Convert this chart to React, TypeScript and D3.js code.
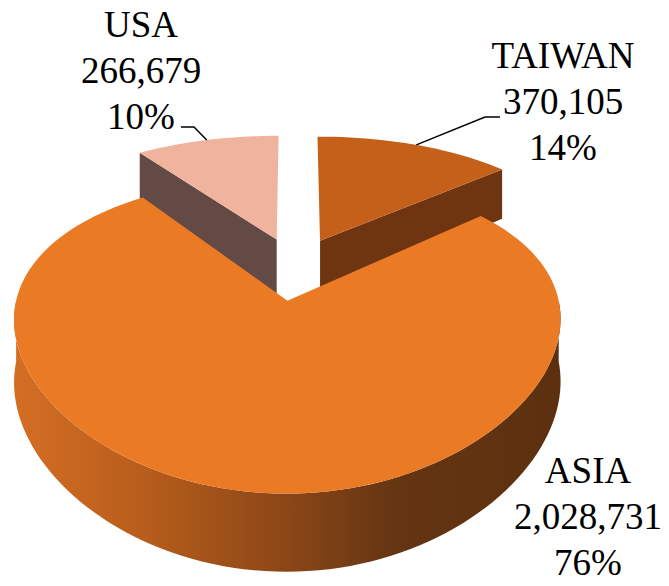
import React from "react";
import * as d3 from "d3";

// slice data, in drawing order (clockwise from 12 o'clock)
const categories = ["TAIWAN", "ASIA", "USA"];
const values = [370105, 2028731, 266679];

const topColors = ["#c5601a", "#eb7a25", "#f0b39e"];
const cutColors = ["#6e3510", "#6e3510", "#634a44"];

// label layout: text centre x, first baseline, leader elbow and end
const labelX = [563, 588, 141];
const labelY = [68, 483, 37];
const leaderElbow: ([number, number] | null)[] = [[485, 117], null, [194, 127]];
const leaderEnd: ([number, number] | null)[] = [[500, 117], null, [181, 127]];

const W = 669;
const H = 586;

// pseudo perspective for the tilted pie
const cx = 295;
const cy = 268;
const kx = 264;
const qx = 0.1175;
const ky = 136.3;
const qy = 0.21;
const depth = 58;
const explode = 0.23;

const proj = (X: number, Z: number, t: number): [number, number] => [
  cx + (kx * X) / (1 + qx * Z),
  cy + (-ky * Z + depth * t) / (1 + qy * Z),
];

const line = d3.line();
const closed = (pts: [number, number][]) => line(pts) + "Z";

export default function App() {
  const total = d3.sum(values);
  const pie = d3
    .pie<number>()
    .sort(null)
    .startAngle(0)
    .endAngle(Math.PI * 2);
  const arcs = pie(values);
  const fmt = d3.format(",");

  const slices = arcs.map((a, i) => {
    const mid = (a.startAngle + a.endAngle) / 2;
    const ox = explode * Math.sin(mid);
    const oz = explode * Math.cos(mid);
    const rim = (th: number, t: number) => proj(ox + Math.sin(th), oz + Math.cos(th), t);
    const apex = (t: number) => proj(ox, oz, t);
    const steps = (a0: number, a1: number) => {
      const n = Math.max(2, Math.ceil(((a1 - a0) / Math.PI) * 90));
      return d3.range(n + 1).map((k) => a0 + ((a1 - a0) * k) / n);
    };

    const top = closed([apex(0), ...steps(a.startAngle, a.endAngle).map((th) => rim(th, 0))]);

    const w0 = Math.max(a.startAngle, Math.PI / 2);
    const w1 = Math.min(a.endAngle, (Math.PI * 3) / 2);
    let wall: string | null = null;
    if (w1 > w0) {
      const ths = steps(w0, w1);
      wall = closed([
        ...ths.map((th) => rim(th, 0)),
        ...ths.slice().reverse().map((th) => rim(th, 1)),
      ]);
    }

    const faces: string[] = [];
    if (Math.sin(a.startAngle) < -1e-6)
      faces.push(closed([apex(0), rim(a.startAngle, 0), rim(a.startAngle, 1), apex(1)]));
    if (Math.sin(a.endAngle) > 1e-6)
      faces.push(closed([apex(0), rim(a.endAngle, 0), rim(a.endAngle, 1), apex(1)]));

    return { i, oz, top, wall, faces, tip: rim(mid, 0) };
  });

  const order = slices.slice().sort((p, q) => q.oz - p.oz);

  return (
    <svg
      width={W}
      height={H}
      style={{ position: "absolute", left: 0, top: 0, background: "#fff" }}
    >
      <defs>
        <linearGradient id="asiaSide" gradientUnits="userSpaceOnUse" x1={15} x2={560} y1={0} y2={0}>
          <stop offset="0" stopColor="#d46e23" />
          <stop offset="0.25" stopColor="#b65c1c" />
          <stop offset="0.5" stopColor="#8a4617" />
          <stop offset="0.7" stopColor="#653512" />
          <stop offset="1" stopColor="#5c300f" />
        </linearGradient>
      </defs>

      {order.map((s) => (
        <g key={categories[s.i]}>
          {s.faces.map((d, k) => (
            <path key={k} d={d} fill={cutColors[s.i]} />
          ))}
          {s.wall && <path d={s.wall} fill={categories[s.i] === "ASIA" ? "url(#asiaSide)" : cutColors[s.i]} />}
          <path d={s.top} fill={topColors[s.i]} />
        </g>
      ))}

      {slices.map((s) => {
        const el = leaderElbow[s.i];
        const en = leaderEnd[s.i];
        if (!el || !en) return null;
        return (
          <polyline
            key={"l" + s.i}
            points={[s.tip, el, en].map((p) => p.join(",")).join(" ")}
            fill="none"
            stroke="#000"
            strokeWidth={1.5}
          />
        );
      })}

      {categories.map((c, i) => (
        <text
          key={c}
          x={labelX[i]}
          y={labelY[i]}
          textAnchor="middle"
          fontFamily="'Liberation Serif', serif"
          fontSize={37}
          fill="#000"
        >
          <tspan x={labelX[i]}>{c}</tspan>
          <tspan x={labelX[i]} dy={46}>{fmt(values[i])}</tspan>
          <tspan x={labelX[i]} dy={46}>{Math.round((values[i] / total) * 100) + "%"}</tspan>
        </text>
      ))}
    </svg>
  );
}
